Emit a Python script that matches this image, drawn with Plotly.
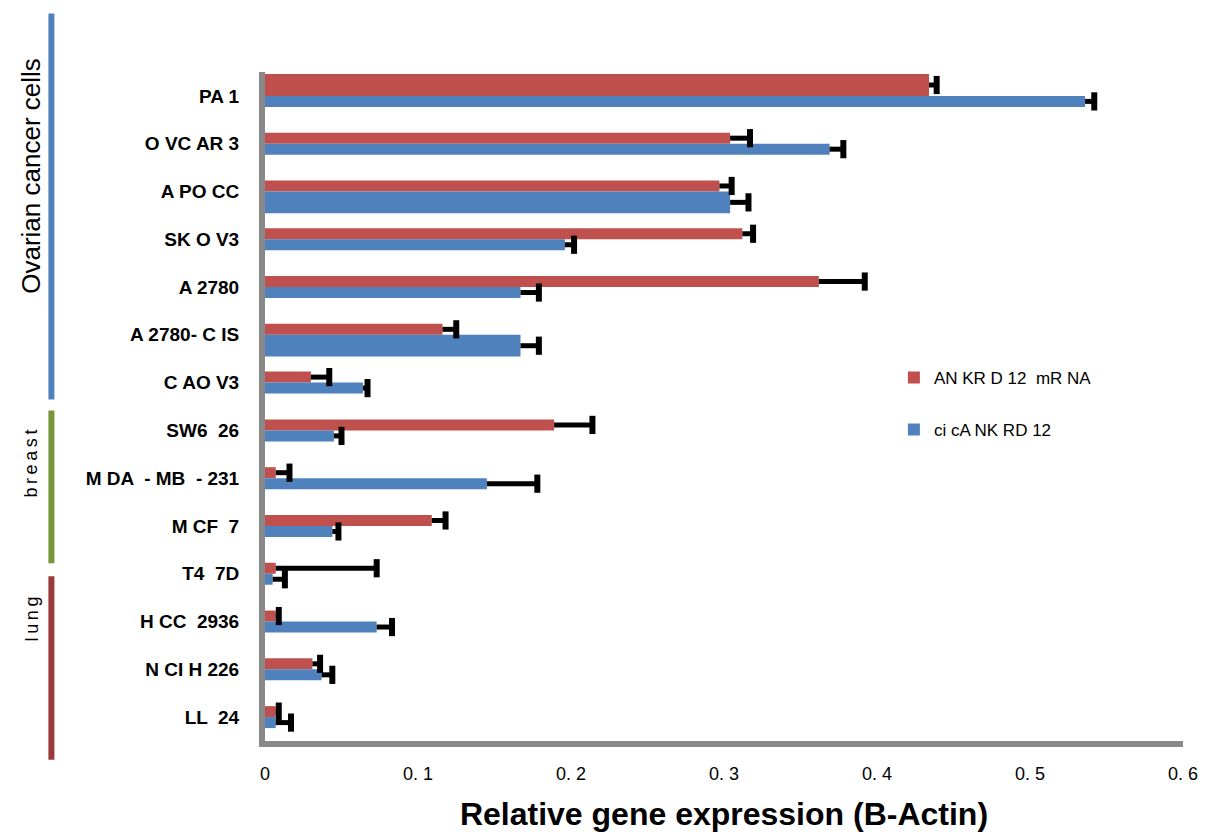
import plotly.graph_objects as go

# Cell lines, top to bottom
cell_lines = [
    "PA 1", "O VC AR 3", "A PO CC", "SK O V3", "A 2780", "A 2780- C IS", "C AO V3",
    "SW6  26", "M DA  - MB  - 231", "M CF  7", "T4  7D",
    "H CC  2936", "N CI H 226", "LL  24",
]

# Relative expression (normalised to B-Actin)
mrna_values = [0.434, 0.304, 0.297, 0.312, 0.362, 0.116, 0.030,
               0.189, 0.007, 0.109, 0.007, 0.007, 0.031, 0.007]
mrna_errors = [0.005, 0.013, 0.008, 0.007, 0.030, 0.009, 0.012,
               0.025, 0.009, 0.009, 0.066, 0.002, 0.005, 0.002]

circ_values = [0.536, 0.369, 0.304, 0.196, 0.167, 0.167, 0.064,
               0.045, 0.145, 0.044, 0.005, 0.073, 0.037, 0.007]
circ_errors = [0.006, 0.009, 0.012, 0.006, 0.012, 0.012, 0.003,
               0.005, 0.033, 0.004, 0.008, 0.010, 0.007, 0.010]

x_ticks = [0, 0.1, 0.2, 0.3, 0.4, 0.5, 0.6]
x_tick_text = ["0", "0. 1", "0. 2", "0. 3", "0. 4", "0. 5", "0. 6"]

RED = "#C0504D"
BLUE = "#4F81BD"
GREY = "#898989"

# bar thickness per row (category units)
THIN, THICK = 0.23, 0.456
mrna_width = [THICK] + [THIN] * 13
circ_width = [THIN, THIN, THICK, THIN, THIN, THICK] + [THIN] * 8

W, H = 1210, 840
L, R, T, B = 265, 21, 72, 94
PW, PH = W - L - R, H - T - B


def px_x(px):
    return (px - L) / PW


def px_y(py):
    return (H - B - py) / PH


rows = list(range(len(cell_lines)))
narrow = "Liberation Sans Narrow, Arial Narrow, Liberation Sans, Arial, sans-serif"

fig = go.Figure()


def add_series(values, errors, widths, color, name, above):
    # red bars sit above the row centre, blue bars below it
    offsets = [-w for w in widths] if above else [0] * len(widths)
    fig.add_trace(go.Bar(
        y=rows, x=values, orientation="h", name=name,
        marker=dict(color=color, line=dict(width=0)),
        width=widths, offset=offsets,
        error_x=dict(type="data", symmetric=False, array=errors,
                     arrayminus=[0] * len(errors),
                     color="black", thickness=5, width=0),
        legendgroup=name,
    ))
    # end caps of the error bars (plus side only)
    centres = [r + o + w / 2 for r, o, w in zip(rows, offsets, widths)]
    fig.add_trace(go.Scatter(
        x=[v + e for v, e in zip(values, errors)], y=centres,
        mode="markers", showlegend=False, hoverinfo="skip",
        marker=dict(symbol="line-ns", size=13,
                    line=dict(color="black", width=6)),
    ))


add_series(mrna_values, mrna_errors, mrna_width, RED, "AN KR D 12  mR NA", True)
add_series(circ_values, circ_errors, circ_width, BLUE, "ci cA NK RD 12", False)

fig.update_layout(
    width=W, height=H,
    margin=dict(l=L, r=R, t=T, b=B),
    paper_bgcolor="white", plot_bgcolor="white",
    barmode="overlay",
    showlegend=True,
    legend=dict(x=px_x(898), y=px_y(362), xanchor="left", yanchor="top",
                traceorder="grouped", tracegroupgap=27,
                font=dict(family=narrow, size=17, color="black"),
                bgcolor="rgba(0,0,0,0)"),
    xaxis=dict(range=[0, 0.6], tickvals=x_ticks, ticktext=x_tick_text,
               showgrid=False, zeroline=False,
               showline=True, linecolor=GREY, linewidth=6,
               ticks="outside", ticklen=11, tickcolor="rgba(0,0,0,0)",
               tickfont=dict(family=narrow, size=18, color="black"),
               title=dict(text="Relative gene expression (B-Actin)",
                          font=dict(family=narrow, size=32, color="black",
                                    weight="bold"),
                          standoff=22)),
    yaxis=dict(range=[13.5, -0.5], tickvals=rows, ticktext=cell_lines,
               showgrid=False, zeroline=False,
               showline=True, linecolor=GREY, linewidth=6,
               ticks="outside", ticklen=16, tickcolor="rgba(0,0,0,0)",
               tickfont=dict(family="Liberation Sans, Arial, sans-serif",
                             size=19, color="black", weight="bold")),
)

# cancer-type brackets on the left
groups = [
    ("Ovarian cancer cells", BLUE, 13, 402, 177, 26),
    ("b\u2009r\u2009e\u2009a\u2009s\u2009t", "#77963B", 413, 567, 467, 18),
    ("l\u2009u\u2009n\u2009g", "#9B3A3A", 580, 765, 623, 18),
]
for label, color, y0, y1, ytext, size in groups:
    fig.add_shape(type="line", xref="paper", yref="paper",
                  x0=px_x(50), x1=px_x(50), y0=px_y(y0), y1=px_y(y1),
                  line=dict(color=color, width=6))
    fig.add_annotation(text=label, xref="paper", yref="paper",
                       x=px_x(30), y=px_y(ytext), showarrow=False,
                       textangle=-90, xanchor="center", yanchor="middle",
                       font=dict(family=narrow, size=size, color="black"))

fig.write_html("out.html")
